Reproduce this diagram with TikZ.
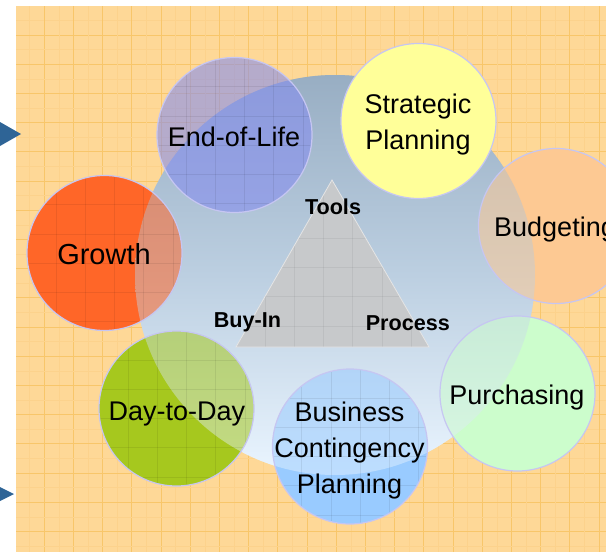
\documentclass[tikz,border=0pt]{standalone}
\usepackage{fontspec}
\setmainfont{Liberation Sans}
\definecolor{paper}{HTML}{FED897}
\definecolor{rule}{HTML}{F8C66A}
\definecolor{fine}{HTML}{FCD28C}
\definecolor{hubtop}{HTML}{98AEC3}
\definecolor{hubmid}{HTML}{BCCFE1}
\definecolor{hubbot}{HTML}{EAF5FF}
\definecolor{rim}{HTML}{C6C6F2}
\definecolor{bullet}{HTML}{2E6496}
\definecolor{growthc}{HTML}{FF6628}
\definecolor{dayc}{HTML}{A6C81E}
\definecolor{bcpc}{HTML}{99CBFF}
\definecolor{purchc}{HTML}{CCFDCC}
\definecolor{budgc}{HTML}{FDC993}
\definecolor{stratc}{HTML}{FFFF99}
\definecolor{eolc}{HTML}{858DEE}
\definecolor{pyr}{HTML}{C7C9CB}
\begin{document}
\begin{tikzpicture}[x=1pt,y=-1pt,
bubble/.style={circle,minimum size=155pt,inner sep=0pt},
hubshade/.style={top color=hubtop,bottom color=hubbot,middle color=hubmid},
word/.style={font=\fontsize{27}{36}\selectfont,align=center},
corner/.style={font=\bfseries\fontsize{21.6}{26}\selectfont,anchor=base},
tile/.style={draw=black,draw opacity=0.07,line width=0.8pt}]
\def\rad{77.5}
\def\gap{29.2}
\def\tiles#1{
\begin{scope}
\clip (#1) circle[radius=\rad pt];
\foreach \i in {1,...,5}{
\draw[tile] (#1) ++({-\rad+\gap*\i},-\rad) --++(0,155);
\draw[tile] (#1) ++(-\rad,{-\rad+\gap*\i}) --++(155,0);
}
\end{scope}
}
\useasboundingbox (0,0) rectangle (606,552);
\clip (0,0) rectangle (606,552);
\fill[paper] (16,6) rectangle (606,552);
\foreach \i in {0,...,19}{
\draw[fine,line width=0.5pt]
({29.7+\gap*\i},6)--++(0,546)
(16,{20.4+\gap*\i})--++(590,0);
\draw[rule,line width=1pt]
({44.3+\gap*\i},6)--++(0,546)
(16,{35+\gap*\i})--++(590,0);
}
\fill[bullet] (0,122)--(21,134)--(0,146)--cycle;
\fill[bullet] (0,487)--(14,494)--(0,501)--cycle;
\node[circle,minimum size=400pt,inner sep=0pt] (hub) at (335,275) {};
\shade[hubshade] (hub) circle[radius=200pt];
\node[bubble,fill=growthc] (growth) at (104.5,253) {};
\node[bubble,fill=dayc] (day) at (176.5,408.5) {};
\node[bubble,fill=bcpc] (bcp) at (350,446.5) {};
\node[bubble,fill=purchc] (purch) at (517.5,393.5) {};
\node[bubble,fill=budgc] (budg) at (556,226) {};
\shade[hubshade,opacity=0.45] (hub) circle[radius=200pt];
\coordinate (apex) at (332,180);
\coordinate (left) at (236,347);
\coordinate (right) at (429,347);
\fill[pyr] (apex)--(left)--(right)--cycle;
\begin{scope}
\clip (apex)--(left)--(right)--cycle;
\foreach \i in {1,...,6}{
\draw[tile,draw opacity=0.05] (left) ++(\gap*\i,0) --++(0,-167);
\draw[tile,draw opacity=0.05] (left) ++(0,{-167+\gap*\i}) --++(193,0);
}
\end{scope}
\draw[white!80!gray,line width=0.8pt] (apex)--(left)--(right)--cycle;
\node[bubble,fill=eolc,fill opacity=0.6] (eol) at (234.5,135) {};
\node[bubble,fill=stratc] (strat) at (418.5,121) {};
\foreach \n in {growth,day,bcp,eol}{\tiles{\n}}
\foreach \n in {growth,day,bcp,purch,budg,eol,strat}{
\draw[rim,line width=1.2pt] (\n) circle[radius=\rad pt];
}
\node[word,font=\fontsize{29}{36}\selectfont,anchor=base] (growthtext) at (104,264) {Growth};
\node[word,anchor=base] (eoltext) at (234,146.7) {End-of-Life};
\node[word] (strattext) at (418,125) {Strategic\\Planning};
\node[word,anchor=base] (budgtext) at (555,236) {Budgeting};
\node[word,anchor=base] (purchtext) at (516.8,404) {Purchasing};
\node[word] (bcptext) at (349.5,450.5) {Business\\Contingency\\Planning};
\node[word,anchor=base] (daytext) at (176.8,420) {Day-to-Day};
\node[corner] (tools) at (333,214.3) {Tools};
\node[corner] (buyin) at (247.5,327.7) {Buy-In};
\node[corner] (process) at (407.8,330) {Process};
\end{tikzpicture}
\end{document}
